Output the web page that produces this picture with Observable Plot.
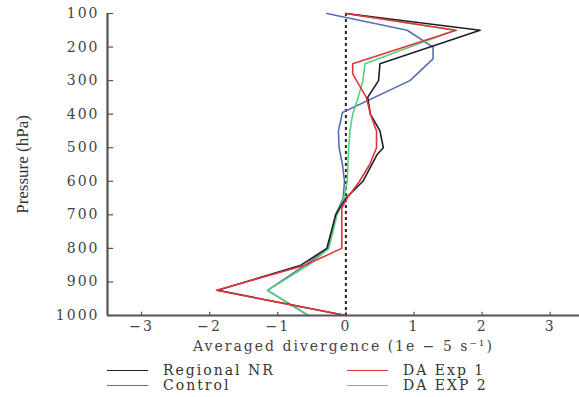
<!DOCTYPE html>
<html>
<head>
<meta charset="utf-8">
<script src="https://cdn.jsdelivr.net/npm/d3@7"></script>
<script src="https://cdn.jsdelivr.net/npm/@observablehq/plot@0.6"></script>
<style>
  html, body { margin: 0; padding: 0; background: #fff; }
  #wrap { position: relative; width: 579px; height: 397px; overflow: hidden; }
  #wrap svg text { letter-spacing: 2px; }
  #wrap svg .ylab text { letter-spacing: 0; }
  #legend { position: absolute; left: 0; top: 360px; width: 579px; height: 37px;
    font-family: "DejaVu Serif", serif; font-size: 14px; color: #333; letter-spacing: 2px; }
  .item { position: absolute; display: flex; align-items: center; height: 14px; }
  .swatch { width: 41px; height: 0; border-top: 1.6px solid; margin-right: 15px; }
</style>
</head>
<body>
<div id="wrap"></div>
<script>
// Pressure levels and series values (1e-5 s^-1)
const nrLevels   = [100, 150, 250, 300, 350, 400, 450, 500, 520, 600, 650, 700, 800, 850, 925, 1000];
const nrValues   = [0, 1.97, 0.5, 0.48, 0.32, 0.36, 0.5, 0.55, 0.46, 0.25, 0.0, -0.15, -0.28, -0.66, -1.88, 0];

const ctlLevels  = [100, 150, 200, 235, 300, 395, 450, 500, 550, 600, 650, 700, 800, 850, 925, 1000];
const ctlValues  = [-0.28, 0.9, 1.28, 1.28, 0.94, -0.05, -0.11, -0.1, -0.05, -0.02, -0.04, -0.15, -0.26, -0.6, -1.15, -0.55];

const da1Levels  = [100, 150, 250, 280, 350, 400, 450, 500, 550, 600, 650, 680, 800, 850, 925, 1000];
const da1Values  = [0, 1.62, 0.1, 0.1, 0.3, 0.36, 0.45, 0.45, 0.35, 0.2, 0.02, -0.06, -0.06, -0.6, -1.9, 0];

const da2Levels  = [100, 150, 250, 300, 350, 400, 450, 500, 550, 600, 650, 700, 800, 850, 925, 1000];
const da2Values  = [0, 1.6, 0.28, 0.25, 0.18, 0.1, 0.06, 0.04, 0.03, 0.02, -0.03, -0.13, -0.25, -0.55, -1.15, -0.55];

const seriesNames  = ["Regional NR", "Control", "DA Exp 1", "DA EXP 2"];
const seriesColors = ["#1f1f2a", "#5a6db0", "#e0353d", "#5ccf7a"];
const yTicks = [100, 200, 300, 400, 500, 600, 700, 800, 900, 1000];
const xTicks = [-3, -2, -1, 0, 1, 2, 3];
const xDomain = [-3.5, 3.43];

const rows = [];
[[nrLevels, nrValues], [ctlLevels, ctlValues], [da1Levels, da1Values], [da2Levels, da2Values]]
  .forEach(([lv, vals], i) => lv.forEach((p, j) => rows.push({series: seriesNames[i], p, v: vals[j]})));
const drawOrder = ["Control", "DA EXP 2", "Regional NR", "DA Exp 1"];

const font = '"DejaVu Serif", serif';
const plot = Plot.plot({
  width: 579,
  height: 360,
  marginTop: 13,
  marginBottom: 45,
  marginLeft: 107,
  marginRight: 0,
  style: {fontFamily: font, color: "#444", background: "#fff", overflow: "visible"},
  x: {domain: xDomain},
  y: {domain: [100, 1000], reverse: true},
  color: {domain: seriesNames, range: seriesColors},
  marks: [
    Plot.axisY({ticks: yTicks, tickSize: 0, tickPadding: 8, fontSize: 14, label: null, tickFormat: d => String(d)}),
    Plot.axisX({ticks: xTicks, tickSize: 0, tickPadding: 6, fontSize: 14, label: null,
      tickFormat: d => (d < 0 ? "−" : "") + Math.abs(d)}),
    Plot.ruleY(yTicks, {y: d => d, x1: xDomain[0], x2: xDomain[0] + 0.09, stroke: "#555", strokeWidth: 1.2}),
    Plot.ruleX(xTicks, {x: d => d, y1: 1000, y2: 990, stroke: "#555", strokeWidth: 1.2}),
    Plot.ruleX([0], {y1: 100, y2: 1000, stroke: "#222", strokeWidth: 2, strokeDasharray: "3,3"}),
    ...drawOrder.map(s => Plot.line(rows.filter(r => r.series === s), {x: "v", y: "p", stroke: "series", strokeWidth: 1.6, sort: null})),
    Plot.ruleX([xDomain[0]], {y1: 100, y2: 1000, stroke: "#555", strokeWidth: 2.2}),
    Plot.ruleY([1000], {x1: xDomain[0], x2: xDomain[1], stroke: "#555", strokeWidth: 2.2}),
    Plot.text(["Averaged divergence (1e − 5 s⁻¹)"], {frameAnchor: "bottom", dy: 35, fontSize: 14, fill: "#444"}),
    Plot.text(["Pressure (hPa)"], {frameAnchor: "left", textAnchor: "middle", dx: -85, rotate: -90, fontSize: 17, fill: "#333",
      className: "ylab", fontFamily: '"Liberation Serif", serif'})
  ]
});
const wrap = document.getElementById("wrap");
wrap.appendChild(plot);

const legend = document.createElement("div");
legend.id = "legend";
const pos = [[107, 3], [107, 18], [347, 3], [347, 18]];
seriesNames.forEach((name, i) => {
  const it = document.createElement("div");
  it.className = "item";
  it.style.left = pos[i][0] + "px";
  it.style.top = pos[i][1] + "px";
  const sw = document.createElement("span");
  sw.className = "swatch";
  sw.style.borderTopColor = seriesColors[i];
  const tx = document.createElement("span");
  tx.textContent = name;
  it.appendChild(sw); it.appendChild(tx);
  legend.appendChild(it);
});
wrap.appendChild(legend);
</script>
</body>
</html>
